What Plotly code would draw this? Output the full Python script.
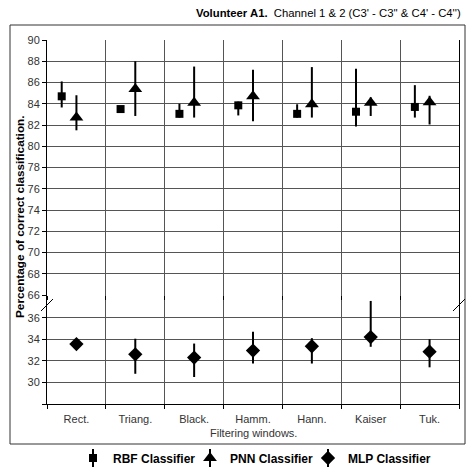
import plotly.graph_objects as go
import numpy as np

# ---------------- data ----------------
windows = ["Rect.", "Triang.", "Black.", "Hamm.", "Hann.", "Kaiser", "Tuk."]

rbf_mean = [84.7, 83.5, 83.05, 83.85, 83.05, 83.25, 83.7]
rbf_hi   = [86.1, 83.7, 84.0, 84.2, 83.95, 87.3, 85.75]
rbf_lo   = [83.65, 83.3, 82.7, 82.9, 82.7, 81.85, 82.7]

pnn_mean = [82.7, 85.4, 84.1, 84.7, 83.95, 84.1, 84.15]
pnn_hi   = [84.8, 88.0, 87.5, 87.2, 87.45, 84.6, 84.75]
pnn_lo   = [81.5, 82.85, 82.7, 82.35, 82.7, 82.85, 82.05]

mlp_mean = [33.55, 32.6, 32.3, 32.95, 33.35, 34.2, 32.85]
mlp_hi   = [33.8, 34.05, 33.6, 34.7, 34.1, 37.55, 34.0]
mlp_lo   = [33.3, 30.8, 30.5, 31.75, 31.75, 33.3, 31.4]

upper_ticks = [66, 68, 70, 72, 74, 76, 78, 80, 82, 84, 86, 88, 90]
lower_ticks = [28, 30, 32, 34, 36]
lower_ticktext = ["", "30", "32", "34", "36"]

# ---------------- layout geometry (pixels) ----------------
W, H = 467, 470
ML, MR, MT, MB = 47, 8, 40, 66
PW, PH = W - ML - MR, H - MT - MB


def px(xp):
    return (xp - ML) / PW


def py(yp):
    return (H - MB - yp) / PH


upper_dom = [py(295), 1.0]
lower_dom = [0.0, py(295)]

FONT = "Liberation Sans, Arial, sans-serif"
GRID = "#555555"

idx = np.arange(len(windows))
rbf_x = idx - 0.25


def err(mean, hi, lo):
    m = np.array(mean)
    return dict(type="data", symmetric=False,
                array=list(np.array(hi) - m), arrayminus=list(m - np.array(lo)),
                color="black", thickness=2, width=0)


fig = go.Figure()
fig.add_trace(go.Scatter(x=rbf_x, y=rbf_mean, mode="markers", name="RBF Classifier",
                         marker=dict(symbol="square", size=8, color="black"),
                         error_y=err(rbf_mean, rbf_hi, rbf_lo),
                         xaxis="x2", yaxis="y2", legend="legend"))
fig.add_trace(go.Scatter(x=idx, y=pnn_mean, mode="markers", name="PNN Classifier",
                         marker=dict(symbol="triangle-up", size=12, color="black"),
                         error_y=err(pnn_mean, pnn_hi, pnn_lo),
                         xaxis="x2", yaxis="y2", legend="legend2"))
fig.add_trace(go.Scatter(x=idx, y=mlp_mean, mode="markers", name="MLP Classifier",
                         marker=dict(symbol="diamond", size=11, color="black"),
                         error_y=err(mlp_mean, mlp_hi, mlp_lo),
                         xaxis="x", yaxis="y", cliponaxis=False, legend="legend3"))

xcommon = dict(range=[-0.5, len(windows) - 0.5], showgrid=False, zeroline=False, automargin=False,
               minor=dict(tick0=-0.5, dtick=1, showgrid=True, gridcolor=GRID, gridwidth=1,
                          ticks="outside", ticklen=4, tickcolor="black"))

shapes = []
# outer frame
shapes.append(dict(type="rect", xref="paper", yref="paper",
                   x0=px(10), x1=px(465), y0=py(444), y1=py(25),
                   line=dict(color="#333333", width=1), layer="below"))
# break marks
for xc in (ML, W - MR):
    for d in (-2, 2):
        shapes.append(dict(type="line", xref="paper", yref="paper",
                           x0=px(xc - 4 + d), y0=py(309 - d),
                           x1=px(xc + 4 + d), y1=py(301 - d),
                           line=dict(color="black", width=1)))

legend_left = [73, 190, 308]
# error-bar strokes through the legend symbols
for lx in legend_left:
    sx = lx + 20
    shapes.append(dict(type="line", xref="paper", yref="paper",
                       x0=px(sx), x1=px(sx), y0=py(449), y1=py(467),
                       line=dict(color="black", width=2)))


def leg(xpix):
    return dict(orientation="h", xref="container", yref="container",
                x=xpix / W, xanchor="left", y=(H - 458) / H, yanchor="middle",
                font=dict(family=FONT, size=12, color="black", weight="bold"),
                itemwidth=30, bgcolor="rgba(0,0,0,0)", borderwidth=0)


fig.update_layout(
    width=W, height=H,
    margin=dict(l=ML, r=MR, t=MT, b=MB, autoexpand=False),
    paper_bgcolor="white", plot_bgcolor="white",
    font=dict(family=FONT, size=11, color="#222222"),
    xaxis=dict(**xcommon, anchor="y", tickvals=list(idx), ticktext=windows, ticks="",
               showline=True, linecolor="black", linewidth=1, ticklabelstandoff=5,
               tickfont=dict(size=11, color="#333333")),
    xaxis2=dict(**xcommon, anchor="y2", matches="x", showticklabels=False),
    yaxis=dict(domain=lower_dom, range=[28, 38.1], tickvals=lower_ticks, ticktext=lower_ticktext,
               showgrid=True, gridcolor=GRID, gridwidth=1, zeroline=False, automargin=False,
               showline=True, linecolor="black", linewidth=1, mirror=True,
               ticks="outside", ticklen=4, tickcolor="black",
               tickfont=dict(size=11, color="#333333")),
    yaxis2=dict(domain=upper_dom, range=[66, 90], tickvals=upper_ticks,
                showgrid=True, gridcolor=GRID, gridwidth=1, zeroline=False, automargin=False,
                showline=True, linecolor="black", linewidth=1, mirror=True,
                ticks="outside", ticklen=4, tickcolor="black",
                tickfont=dict(size=11, color="#333333")),
    showlegend=True,
    legend=leg(legend_left[0]),
    legend2=leg(legend_left[1]),
    legend3=leg(legend_left[2]),
    shapes=shapes,
    annotations=[
        dict(xref="paper", yref="paper", x=px(463), y=py(13), xanchor="right", yanchor="middle",
             text="<b>Volunteer A1.</b>  Channel 1 &amp; 2 (C3' - C3'' &amp; C4' - C4'')",
             showarrow=False, font=dict(size=11.3, color="black")),
        dict(xref="paper", yref="paper", x=px(20), y=py(217), xanchor="center", yanchor="middle",
             text="<b>Percentage of correct classification.</b>", textangle=-90,
             showarrow=False, font=dict(size=11.8, color="black")),
        dict(xref="paper", yref="paper", x=px(253), y=py(433), xanchor="center", yanchor="middle",
             text="Filtering windows.", showarrow=False, font=dict(size=11, color="#333333")),
    ],
)

fig.write_html(
    "out.html",
    config={"displayModeBar": False},
    post_script=("document.documentElement.style.margin='0';"
                 "document.documentElement.style.overflow='hidden';"
                 "document.body.style.margin='0';"
                 "document.body.style.overflow='hidden';"),
)
